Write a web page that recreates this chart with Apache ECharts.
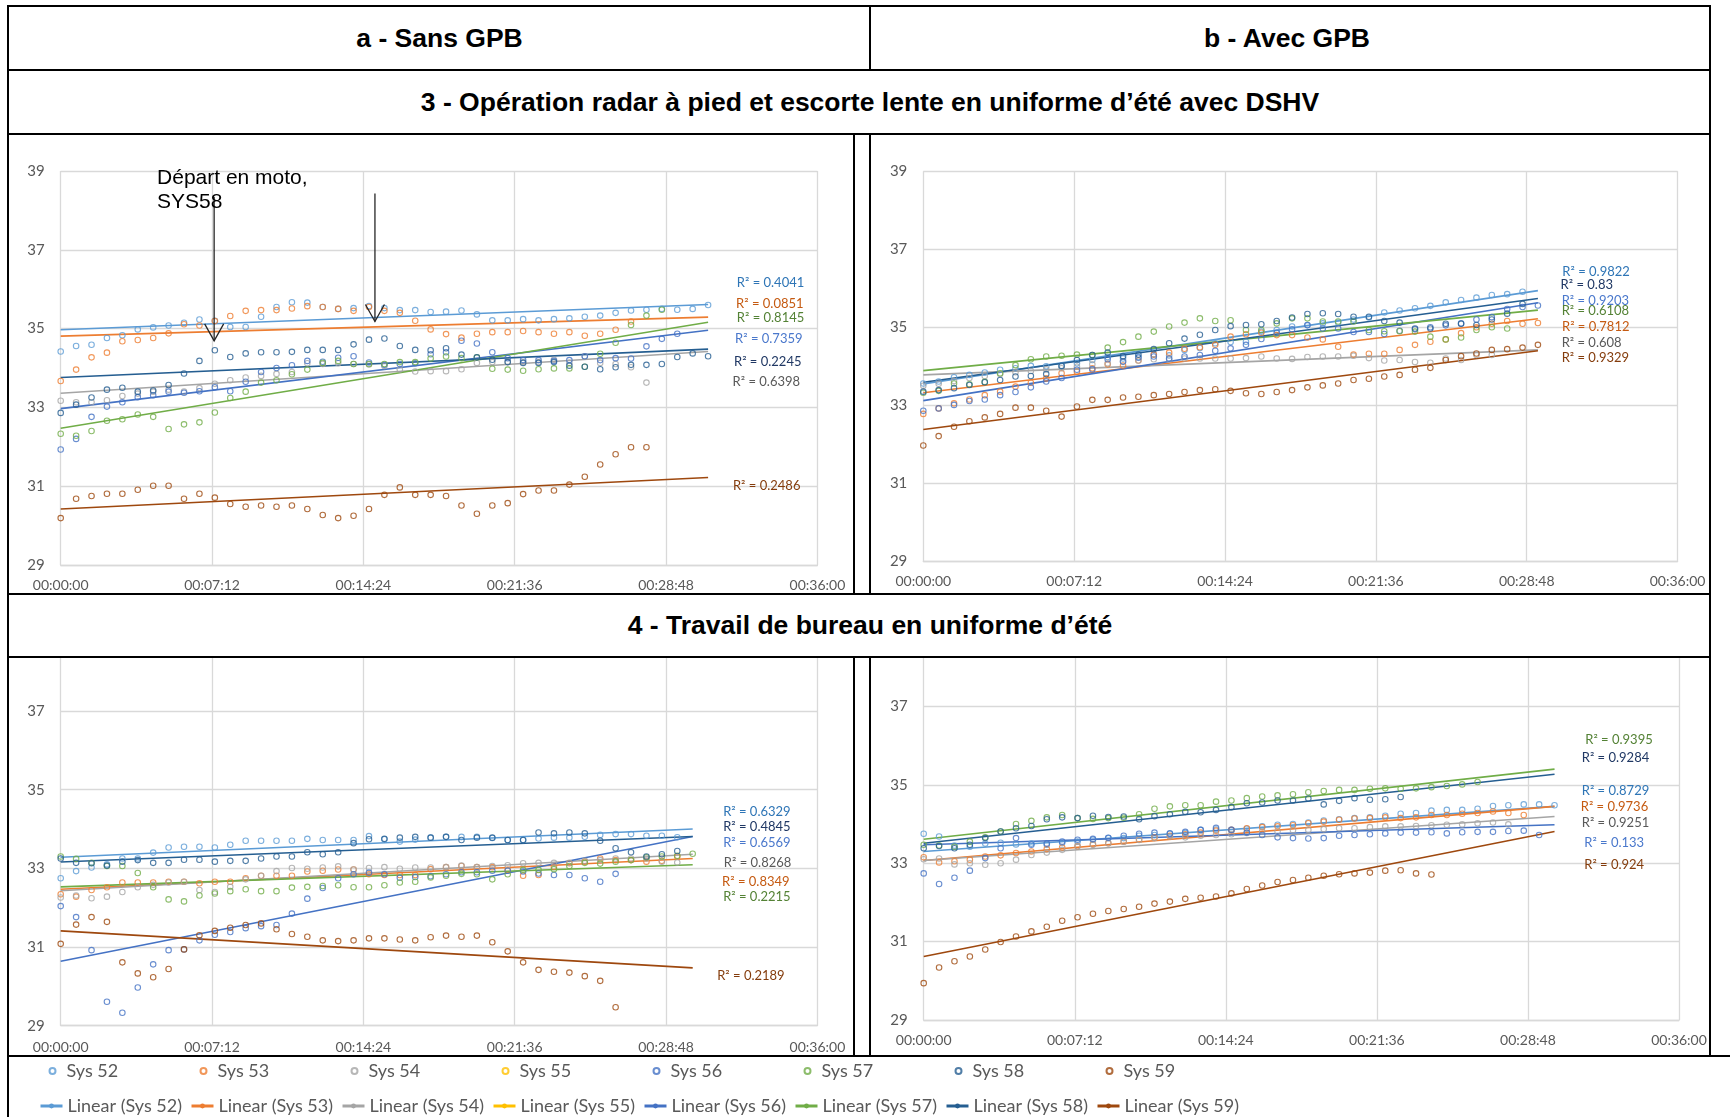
<!DOCTYPE html>
<html lang="fr">
<head>
<meta charset="UTF-8">
<title>Température cutanée - Sans / Avec GPB</title>
<script src="https://cdn.jsdelivr.net/npm/echarts@6/dist/echarts.min.js"></script>
<style>
  body { margin: 0; background: #fff; }
  #page { position: relative; width: 1730px; height: 1117px; overflow: hidden; font-family: 'Liberation Sans', Arial, sans-serif; }
  #chart { position: absolute; left: 0; top: 0; width: 1730px; height: 1117px; z-index: 1; }
  .cell { position: absolute; background: #fff; z-index: 2; display: flex; align-items: center; justify-content: center;
          font-weight: bold; font-size: 26.5px; color: #000; white-space: nowrap; }
  .ln { position: absolute; background: #000; z-index: 3; }
</style>
</head>
<body>
<div id="page">
  <div id="chart"></div>
  <!-- en-têtes du tableau -->
  <div class="cell" style="left:9px;top:7px;width:861px;height:62px;">a - Sans GPB</div>
  <div class="cell" style="left:871px;top:7px;width:832px;height:62px;">b - Avec GPB</div>
  <div class="cell" style="left:9px;top:71px;width:1700px;height:62px;"><span style="position:relative;left:11px;">3 - Opération radar à pied et escorte lente en uniforme d’été avec DSHV</span></div>
  <div class="cell" style="left:9px;top:595px;width:1700px;height:61px;"><span style="position:relative;left:11px;">4 - Travail de bureau en uniforme d’été</span></div>
  <!-- traits du tableau -->
  <div class="ln" style="left:7px;top:5px;width:1704px;height:2px;"></div>
  <div class="ln" style="left:7px;top:69px;width:1704px;height:2px;"></div>
  <div class="ln" style="left:7px;top:133px;width:1704px;height:2px;"></div>
  <div class="ln" style="left:7px;top:593px;width:1704px;height:2px;"></div>
  <div class="ln" style="left:7px;top:656px;width:1704px;height:2px;"></div>
  <div class="ln" style="left:7px;top:1055px;width:1723px;height:2px;"></div>
  <div class="ln" style="left:7px;top:5px;width:2px;height:1112px;"></div>
  <div class="ln" style="left:869px;top:5px;width:2px;height:65px;"></div>
  <div class="ln" style="left:869px;top:134px;width:2px;height:460px;"></div>
  <div class="ln" style="left:869px;top:657px;width:2px;height:399px;"></div>
  <div class="ln" style="left:1709px;top:5px;width:2px;height:1051px;"></div>
  <!-- bords droits des graphiques de la colonne a -->
  <div class="ln" style="left:853px;top:134px;width:2px;height:460px;"></div>
  <div class="ln" style="left:853px;top:657px;width:2px;height:399px;"></div>
</div>
<script>
// pas d'échantillonnage (s) et axe du temps
const STEP_S = 44;
const SYS = ['Sys 52', 'Sys 53', 'Sys 54', 'Sys 55', 'Sys 56', 'Sys 57', 'Sys 58', 'Sys 59'];

// ---- 3a : sans GPB ----
const a3_52 = [34.42,34.56,34.59,34.76,34.83,34.98,35.03,35.08,35.15,35.23,35.2,35.04,35.04,35.3,35.55,35.67,35.66,35.55,35.5,35.52,35.57,35.52,35.47,35.47,35.42,35.43,35.46,35.36,35.21,35.21,35.24,35.21,35.24,35.26,35.3,35.33,35.4,35.46,35.48,35.5,35.48,35.5,35.6];
const a3_53 = [33.67,33.96,34.27,34.39,34.68,34.71,34.76,34.88,35.11,35.08,35.19,35.32,35.45,35.47,35.47,35.51,35.57,35.55,35.5,35.45,35.55,35.45,35.4,35.2,34.98,34.86,34.77,34.87,34.91,34.91,34.94,34.91,34.87,34.91,34.82,34.87,34.97,35.18];
const a3_54 = [33.17,33.13,33.13,33.18,33.29,33.35,33.4,33.45,33.4,33.49,33.6,33.69,33.76,33.8,33.85,33.9,34.12,34.1,34.12,34.1,34.09,34.05,33.96,33.91,33.92,33.92,33.97,34.13,34.15,34.15,34.15,34.15,34.21,34.13,34.3,34.13,34.1,34.02,33.63];
const a3_55 = [];
const a3_56 = [31.93,32.2,32.76,33.02,33.13,33.26,33.31,33.4,33.37,33.41,33.51,33.41,33.65,33.9,34.0,34.07,34.18,34.16,34.26,34.3,34.14,34.08,34.1,34.12,34.35,34.4,34.69,34.62,34.4,34.25,34.2,34.2,34.18,34.2,34.3,34.2,34.25,34.24,34.55,34.74,34.87];
const a3_57 = [32.33,32.28,32.4,32.66,32.7,32.82,32.76,32.45,32.57,32.62,32.87,33.24,33.4,33.63,33.69,33.84,33.96,34.13,34.18,34.1,34.1,34.1,34.15,34.15,34.24,34.29,34.25,34.27,33.98,33.96,33.93,33.97,33.99,33.99,34.03,34.36,34.64,35.09,35.33,35.48];
const a3_58 = [32.86,33.07,33.25,33.45,33.5,33.4,33.43,33.57,33.86,34.18,34.45,34.28,34.37,34.4,34.4,34.41,34.46,34.46,34.46,34.6,34.72,34.75,34.56,34.46,34.45,34.5,34.34,34.27,34.21,34.15,34.13,34.13,34.15,34.06,34.03,33.97,34.02,34.08,34.08,34.1,34.28,34.37,34.3];
const a3_59 = [30.19,30.68,30.75,30.81,30.81,30.91,31.01,31.01,30.68,30.81,30.71,30.55,30.48,30.51,30.48,30.51,30.42,30.27,30.19,30.25,30.42,30.78,30.97,30.78,30.78,30.75,30.51,30.3,30.51,30.57,30.8,30.89,30.89,31.04,31.24,31.55,31.81,31.99,31.99];
const a3_trendStart = [34.97, 34.81, 33.36, null, 32.97, 32.47, 33.76, 30.42];
const a3_trendEnd   = [35.61, 35.29, 34.42, null, 34.96, 35.16, 34.48, 31.22];
const a3_r2 = ['0.4041', '0.0851', '0.6398', null, '0.7359', '0.8145', '0.2245', '0.2486'];

// ---- 3b : avec GPB ----
const b3_52 = [33.56,33.61,33.72,33.78,33.84,33.91,33.95,34.01,34.0,34.01,34.08,34.16,34.24,34.2,34.24,34.3,34.28,34.42,34.47,34.59,34.62,34.63,34.89,34.93,35.02,35.05,35.1,35.12,35.2,35.25,35.38,35.43,35.49,35.55,35.64,35.7,35.76,35.83,35.85,35.91];
const b3_53 = [32.78,32.92,33.05,33.15,33.26,33.35,33.48,33.58,33.69,33.82,33.86,33.95,34.05,34.02,34.15,34.3,34.35,34.45,34.49,34.55,34.76,34.82,34.86,34.8,34.8,34.74,34.69,34.5,34.3,34.32,34.32,34.42,34.55,34.63,34.69,34.85,35.0,35.09,35.16,35.09,35.11];
const b3_54 = [33.5,33.55,33.62,33.7,33.75,33.8,33.85,33.88,33.92,33.95,33.99,34.05,34.08,34.12,34.15,34.18,34.18,34.2,34.2,34.2,34.2,34.21,34.25,34.2,34.19,34.24,34.25,34.25,34.27,34.21,34.15,34.16,34.11,34.09,34.2,34.16,34.29,34.29];
const b3_55 = [];
const b3_56 = [32.86,32.92,33.01,33.11,33.15,33.26,33.34,33.46,33.61,33.7,33.91,33.92,34.18,34.12,34.22,34.25,34.2,34.25,34.29,34.4,34.46,34.55,34.7,34.86,34.95,35.06,34.97,34.97,34.88,34.88,34.83,34.91,34.95,35.0,35.05,35.1,35.2,35.26,35.47,35.52,35.56];
const b3_57 = [33.32,33.37,33.56,33.54,33.6,33.82,34.03,34.18,34.25,34.27,34.3,34.29,34.48,34.62,34.76,34.89,35.02,35.12,35.23,35.16,35.18,34.93,34.93,35.1,35.23,35.23,35.15,35.15,35.15,34.93,34.9,34.9,34.89,34.76,34.69,34.74,34.93,35.0,34.97];
const b3_58 = [33.35,33.39,33.44,33.52,33.59,33.65,33.74,33.75,33.8,34.01,34.16,34.29,34.35,34.26,34.3,34.44,34.59,34.71,34.81,34.93,35.03,35.06,35.08,35.16,35.25,35.34,35.36,35.34,35.27,35.27,35.16,35.12,34.97,34.97,35.09,35.09,35.06,35.2,35.35,35.6];
const b3_59 = [31.97,32.21,32.45,32.59,32.69,32.78,32.94,32.94,32.86,32.71,32.97,33.14,33.14,33.2,33.22,33.26,33.29,33.34,33.39,33.41,33.37,33.31,33.29,33.34,33.39,33.46,33.51,33.56,33.65,33.68,33.74,33.78,33.91,33.96,34.16,34.26,34.33,34.42,34.44,34.48,34.55];
const b3_trendStart = [33.55, 33.32, 33.78, null, 33.12, 33.89, 33.59, 32.38];
const b3_trendEnd   = [35.94, 35.22, 34.42, null, 35.63, 35.44, 35.74, 34.4];
const b3_r2 = ['0.9822', '0.7812', '0.608', null, '0.9203', '0.6108', '0.83', '0.9329'];

// ---- 4a : sans GPB ----
const a4_52 = [32.75,32.93,33.02,33.1,33.25,33.25,33.4,33.53,33.55,33.55,33.53,33.6,33.7,33.7,33.7,33.7,33.75,33.72,33.72,33.72,33.82,33.74,33.68,33.73,33.78,33.8,33.8,33.8,33.77,33.72,33.72,33.76,33.78,33.78,33.8,33.85,33.87,33.87,33.83,33.83,33.79];
const a4_53 = [32.34,32.28,32.45,32.52,32.64,32.64,32.64,32.66,32.66,32.62,32.66,32.66,32.75,32.81,32.81,32.81,32.92,32.94,32.97,32.97,32.85,32.83,32.83,32.83,32.98,33.03,33.06,33.03,33.03,32.96,32.81,32.83,33.04,33.13,33.17,33.25,33.21,33.21,33.17,33.19,33.3];
const a4_54 = [32.26,32.31,32.24,32.28,32.4,32.52,32.58,32.64,32.66,32.45,32.4,32.53,32.72,32.81,32.93,33.01,32.99,33.02,33.05,32.97,33.01,33.03,32.99,33.02,33.02,33.03,33.07,33.03,33.06,33.08,33.13,33.14,33.14,33.14,33.19,33.21,33.25,33.25,33.25,33.17,33.15];
const a4_55 = [];
const a4_56 = [32.04,31.76,30.92,29.61,29.33,29.97,30.56,30.92,30.94,31.17,31.31,31.38,31.48,31.53,31.56,31.85,32.23,32.5,32.75,32.85,32.89,32.85,32.76,32.78,32.8,32.85,32.9,32.9,32.94,32.94,32.92,32.87,32.83,32.83,32.75,32.66,32.86];
const a4_57 = [33.3,33.24,33.14,33.06,33.06,32.88,32.52,32.21,32.16,32.31,32.36,32.42,32.47,32.42,32.42,32.51,32.53,32.55,32.57,32.52,32.52,32.57,32.64,32.66,32.77,32.81,32.86,32.85,32.72,32.85,32.96,32.96,32.98,33.06,33.14,33.12,33.17,33.21,33.28,33.3,33.32,33.37];
const a4_58 = [33.25,33.14,33.13,33.07,33.17,33.21,33.14,33.14,33.22,33.22,33.17,33.19,33.19,33.25,33.3,33.3,33.41,33.36,33.41,33.64,33.74,33.75,33.78,33.8,33.78,33.8,33.72,33.78,33.78,33.72,33.72,33.91,33.89,33.91,33.89,33.7,33.51,33.41,33.3,33.36,33.44];
const a4_59 = [31.08,31.57,31.76,31.64,30.61,30.33,30.23,30.44,30.94,31.3,31.41,31.49,31.56,31.6,31.45,31.33,31.26,31.17,31.15,31.17,31.22,31.22,31.19,31.17,31.25,31.29,31.26,31.29,31.12,30.89,30.61,30.42,30.37,30.35,30.26,30.14,29.47];
const a4_trendStart = [33.28, 32.47, 32.43, null, 30.64, 32.53, 33.16, 31.41];
const a4_trendEnd   = [34.0, 33.25, 33.36, null, 33.81, 33.09, 33.81, 30.47];
const a4_r2 = ['0.6329', '0.8349', '0.8268', null, '0.6569', '0.2215', '0.4845', '0.2189'];

// ---- 4b : avec GPB ----
const b4_52 = [33.75,33.68,33.45,33.42,33.5,33.52,33.48,33.5,33.47,33.52,33.55,33.6,33.64,33.64,33.7,33.72,33.75,33.77,33.85,33.86,33.85,33.88,33.94,33.98,34.0,34.04,34.09,34.12,34.15,34.17,34.21,34.26,34.28,34.34,34.36,34.36,34.39,34.46,34.48,34.5,34.5,34.48];
const b4_53 = [33.15,33.02,33.05,33.09,33.17,33.2,33.26,33.3,33.36,33.4,33.43,33.48,33.51,33.55,33.6,33.66,33.7,33.74,33.78,33.83,33.85,33.89,33.92,33.94,33.97,34.02,34.06,34.11,34.14,34.15,34.17,34.15,34.17,34.23,34.23,34.26,34.28,34.32,34.28,34.23];
const b4_54 = [33.1,33.12,32.97,33.0,32.96,33.0,33.09,33.21,33.27,33.34,33.43,33.47,33.51,33.55,33.59,33.64,33.68,33.66,33.7,33.72,33.74,33.77,33.81,33.81,33.84,33.85,33.87,33.89,33.89,33.92,33.94,33.94,33.95,33.97,33.98,33.99,34.02,34.04,33.99];
const b4_55 = [];
const b4_56 = [32.74,32.47,32.63,32.81,33.13,33.38,33.64,33.47,33.5,33.55,33.6,33.62,33.65,33.7,33.75,33.78,33.76,33.8,33.85,33.9,33.85,33.78,33.72,33.66,33.64,33.63,33.64,33.7,33.72,33.74,33.76,33.78,33.78,33.79,33.76,33.79,33.8,33.8,33.82,33.83,33.72];
const b4_57 = [33.47,33.45,33.42,33.55,33.66,33.81,34.0,34.08,34.17,34.23,34.15,34.13,34.15,34.16,34.25,34.39,34.45,34.48,34.48,34.57,34.6,34.66,34.7,34.73,34.76,34.81,34.84,34.87,34.87,34.9,34.91,34.9,34.91,34.94,34.97,35.01,35.07];
const b4_58 = [33.38,33.44,33.38,33.47,33.64,33.81,33.89,33.95,34.12,34.17,34.15,34.21,34.18,34.19,34.12,34.2,34.25,34.31,34.3,34.36,34.43,34.53,34.55,34.6,34.6,34.65,34.5,34.59,34.66,34.62,34.63,34.69];
const b4_59 = [29.94,30.34,30.5,30.62,30.8,30.99,31.13,31.26,31.38,31.53,31.62,31.71,31.78,31.83,31.89,31.97,32.02,32.09,32.12,32.15,32.23,32.34,32.43,32.52,32.57,32.63,32.68,32.72,32.74,32.76,32.81,32.82,32.74,32.71];
const b4_trendStart = [33.3, 33.07, 33.07, null, 33.47, 33.61, 33.51, 30.62];
const b4_trendEnd   = [34.45, 34.45, 34.19, null, 33.98, 35.4, 35.27, 33.81];
const b4_r2 = ['0.8729', '0.9736', '0.9251', null, '0.133', '0.9395', '0.9284', '0.924'];

// ---- couleurs et mise en page ----
const COLORS = ['#5B9BD5', '#ED7D31', '#A5A5A5', '#FFC000', '#4472C4', '#70AD47', '#255E91', '#9E480E'];
const LABEL_COLORS = ['#2E75B6', '#C55A11', '#595959', '#BF9000', '#4A78CC', '#548235', '#203864', '#843C0C'];
const FONT = 'Lato, "Open Sans", sans-serif';

const PANELS = [
  { grid: { left: 60.7, top: 171, width: 756.7, height: 394 }, labelMargin: 13,
    values: [a3_52, a3_53, a3_54, a3_55, a3_56, a3_57, a3_58, a3_59],
    start: a3_trendStart, end: a3_trendEnd, r2: a3_r2,
    r2At: { t: [1930, 1928, 1918, null, 1925, 1930, 1922, 1919], v: [36.15, 35.62, 33.65, null, 34.75, 35.28, 34.15, 31.01] } },
  { grid: { left: 923.3, top: 171.3, width: 754.3, height: 390 }, labelMargin: 13,
    values: [b3_52, b3_53, b3_54, b3_55, b3_56, b3_57, b3_58, b3_59],
    start: b3_trendStart, end: b3_trendEnd, r2: b3_r2,
    r2At: { t: [1830, 1829, 1828, null, 1828, 1828, 1825, 1828], v: [36.43, 35.02, 34.59, null, 35.69, 35.43, 36.10, 34.21] } },
  { grid: { left: 60.7, top: 632.3, width: 756.7, height: 393.4 }, labelMargin: 15,
    values: [a4_52, a4_53, a4_54, a4_55, a4_56, a4_57, a4_58, a4_59],
    start: a4_trendStart, end: a4_trendEnd, r2: a4_r2,
    r2At: { t: [1891, 1888, 1893, null, 1891, 1891, 1891, 1874], v: [34.44, 32.66, 33.13, null, 33.66, 32.27, 34.06, 30.28] } },
  { grid: { left: 923.7, top: 628, width: 755.3, height: 392 }, labelMargin: 13,
    values: [b4_52, b4_53, b4_54, b4_55, b4_56, b4_57, b4_58, b4_59],
    start: b4_trendStart, end: b4_trendEnd, r2: b4_r2,
    r2At: { t: [1882, 1879, 1882, null, 1889, 1892, 1882, 1889], v: [34.85, 34.44, 34.02, null, 33.51, 36.16, 35.68, 32.96] } }
];

function hms(s) {
  const h = Math.floor(s / 3600), m = Math.floor((s % 3600) / 60), ss = s % 60;
  return [h, m, ss].map(v => String(v).padStart(2, '0')).join(':');
}

const grids = [], xAxes = [], yAxes = [], series = [];
PANELS.forEach((p, gi) => {
  grids.push(Object.assign({ containLabel: false }, p.grid));
  xAxes.push({
    type: 'value', gridIndex: gi, min: 0, max: 2160, interval: 432,
    axisLabel: { formatter: hms, color: '#595959', fontSize: 14, fontFamily: FONT, margin: p.labelMargin },
    axisLine: { show: true, lineStyle: { color: '#D9D9D9', width: 1.3 } },
    axisTick: { show: false },
    splitLine: { show: true, lineStyle: { color: '#D9D9D9', width: 1.3 } }
  });
  yAxes.push({
    type: 'value', gridIndex: gi, min: 29, max: 39, interval: 2,
    axisLabel: { color: '#595959', fontSize: 15, fontFamily: FONT, margin: 16 },
    axisLine: { show: false }, axisTick: { show: false },
    splitLine: { show: true, lineStyle: { color: '#D9D9D9', width: 1.3 } }
  });
  const lastT = (Math.max(...p.values.map(a => a.length)) - 1) * STEP_S;
  SYS.forEach((name, k) => {
    series.push({
      type: 'scatter', name, xAxisIndex: gi, yAxisIndex: gi, z: 3,
      symbol: 'circle', symbolSize: 5.5,
      itemStyle: { color: 'rgba(255,255,255,0)', borderColor: COLORS[k], borderWidth: 1.1 },
      data: p.values[k].map((v, i) => [i * STEP_S, v])
    });
    const hasTrend = p.start[k] != null;
    series.push({
      type: 'line', name: 'Linear (' + name + ')', xAxisIndex: gi, yAxisIndex: gi, z: 2,
      symbol: 'none', silent: true,
      lineStyle: { color: COLORS[k], width: 1.6 }, itemStyle: { color: COLORS[k] },
      data: hasTrend ? [[0, p.start[k]], [lastT, p.end[k]]] : [],
      markPoint: hasTrend ? {
        symbol: 'circle', symbolSize: 0, silent: true,
        label: { show: true, position: 'right', distance: 0, color: LABEL_COLORS[k], fontSize: 13, fontFamily: FONT,
                 formatter: 'R² = ' + p.r2[k] },
        data: [{ coord: [p.r2At.t[k], p.r2At.v[k]] }]
      } : undefined
    });
  });
});

// une légende par élément pour caler l'espacement
const LEG_STEP = 151;
const legends = [];
SYS.forEach((name, k) => {
  legends.push({
    data: [name], left: 48.5 + k * LEG_STEP, top: 1062, icon: 'circle',
    itemWidth: 18, itemHeight: 6, padding: 0,
    textStyle: { color: '#595959', fontSize: 18, fontFamily: FONT }
  });
  legends.push({
    data: ['Linear (' + name + ')'], left: 39 + k * LEG_STEP, top: 1097,
    itemWidth: 22, itemHeight: 6, padding: 0, lineStyle: { width: 3 },
    textStyle: { color: '#595959', fontSize: 18, fontFamily: FONT }
  });
});

const chart = echarts.init(document.getElementById('chart'));
chart.setOption({
  animation: false,
  backgroundColor: 'transparent',
  tooltip: { trigger: 'item', formatter: p => p.seriesName + '<br>' + hms(p.value[0]) + ' : ' + p.value[1] },
  legend: legends,
  grid: grids, xAxis: xAxes, yAxis: yAxes, series
});

// annotation « Départ en moto, SYS58 » sur le panneau 3a
const ARROWS = [ { t: 438, from: 38.34, to: 34.69 }, { t: 897, from: 38.43, to: 35.18 } ];
const NOTE = { t: 275, v: 38.82 };
const px = (t, v) => chart.convertToPixel({ xAxisIndex: 0, yAxisIndex: 0 }, [t, v]);
const graphics = [];
ARROWS.forEach(a => {
  const top = px(a.t, a.from), tip = px(a.t, a.to);
  graphics.push({ type: 'line', z: 10, shape: { x1: top[0], y1: top[1], x2: tip[0], y2: tip[1] },
                  style: { stroke: '#262626', lineWidth: 1.3 } });
  graphics.push({ type: 'polyline', z: 10, shape: { points: [[tip[0] - 9.5, tip[1] - 17], tip, [tip[0] + 9.5, tip[1] - 17]] },
                  style: { stroke: '#262626', lineWidth: 1.3, fill: null } });
});
const np = px(NOTE.t, NOTE.v);
graphics.push({ type: 'text', z: 10, x: np[0], y: np[1] - 12,
  style: { text: 'Départ en moto,\nSYS58', fill: '#000', font: '21px "Liberation Sans", Arial, sans-serif', lineHeight: 24 } });
chart.setOption({ graphic: graphics });
</script>
</body>
</html>
